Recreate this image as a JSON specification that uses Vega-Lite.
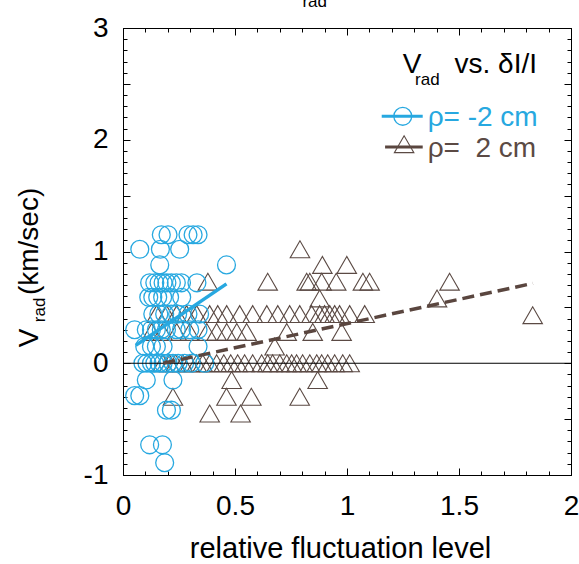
{
  "$schema": "https://vega.github.io/schema/vega-lite/v6.json",
  "width": 448,
  "height": 447,
  "autosize": {"type": "none"},
  "padding": {"left": 123, "top": 28, "right": 8, "bottom": 89},
  "background": "white",
  "datasets": {
    "one": [{}],
    "circles": [
      {"x": 0.171, "y": 1.15, "series": "ρ= -2 cm"}, {"x": 0.201, "y": 1.15, "series": "ρ= -2 cm"}, {"x": 0.290, "y": 1.15, "series": "ρ= -2 cm"}, {"x": 0.313, "y": 1.15, "series": "ρ= -2 cm"}, {"x": 0.335, "y": 1.15, "series": "ρ= -2 cm"},
      {"x": 0.075, "y": 1.02, "series": "ρ= -2 cm"}, {"x": 0.167, "y": 1.02, "series": "ρ= -2 cm"}, {"x": 0.253, "y": 1.02, "series": "ρ= -2 cm"},
      {"x": 0.164, "y": 0.88, "series": "ρ= -2 cm"}, {"x": 0.462, "y": 0.88, "series": "ρ= -2 cm"},
      {"x": 0.119, "y": 0.72, "series": "ρ= -2 cm"}, {"x": 0.142, "y": 0.72, "series": "ρ= -2 cm"}, {"x": 0.161, "y": 0.72, "series": "ρ= -2 cm"}, {"x": 0.179, "y": 0.72, "series": "ρ= -2 cm"}, {"x": 0.196, "y": 0.72, "series": "ρ= -2 cm"}, {"x": 0.216, "y": 0.72, "series": "ρ= -2 cm"}, {"x": 0.238, "y": 0.72, "series": "ρ= -2 cm"}, {"x": 0.261, "y": 0.72, "series": "ρ= -2 cm"}, {"x": 0.330, "y": 0.72, "series": "ρ= -2 cm"},
      {"x": 0.115, "y": 0.59, "series": "ρ= -2 cm"}, {"x": 0.133, "y": 0.59, "series": "ρ= -2 cm"}, {"x": 0.155, "y": 0.59, "series": "ρ= -2 cm"}, {"x": 0.177, "y": 0.59, "series": "ρ= -2 cm"}, {"x": 0.208, "y": 0.59, "series": "ρ= -2 cm"}, {"x": 0.262, "y": 0.59, "series": "ρ= -2 cm"},
      {"x": 0.133, "y": 0.44, "series": "ρ= -2 cm"}, {"x": 0.160, "y": 0.44, "series": "ρ= -2 cm"}, {"x": 0.186, "y": 0.44, "series": "ρ= -2 cm"}, {"x": 0.215, "y": 0.44, "series": "ρ= -2 cm"}, {"x": 0.244, "y": 0.44, "series": "ρ= -2 cm"}, {"x": 0.290, "y": 0.44, "series": "ρ= -2 cm"}, {"x": 0.342, "y": 0.44, "series": "ρ= -2 cm"},
      {"x": 0.052, "y": 0.30, "series": "ρ= -2 cm"}, {"x": 0.104, "y": 0.30, "series": "ρ= -2 cm"}, {"x": 0.127, "y": 0.30, "series": "ρ= -2 cm"}, {"x": 0.149, "y": 0.30, "series": "ρ= -2 cm"}, {"x": 0.171, "y": 0.30, "series": "ρ= -2 cm"}, {"x": 0.194, "y": 0.30, "series": "ρ= -2 cm"}, {"x": 0.238, "y": 0.30, "series": "ρ= -2 cm"}, {"x": 0.261, "y": 0.30, "series": "ρ= -2 cm"}, {"x": 0.298, "y": 0.30, "series": "ρ= -2 cm"}, {"x": 0.335, "y": 0.30, "series": "ρ= -2 cm"},
      {"x": 0.097, "y": 0.15, "series": "ρ= -2 cm"}, {"x": 0.127, "y": 0.15, "series": "ρ= -2 cm"}, {"x": 0.149, "y": 0.15, "series": "ρ= -2 cm"}, {"x": 0.179, "y": 0.15, "series": "ρ= -2 cm"}, {"x": 0.335, "y": 0.15, "series": "ρ= -2 cm"},
      {"x": 0.089, "y": 0.0, "series": "ρ= -2 cm"}, {"x": 0.107, "y": 0.0, "series": "ρ= -2 cm"}, {"x": 0.127, "y": 0.0, "series": "ρ= -2 cm"}, {"x": 0.142, "y": 0.0, "series": "ρ= -2 cm"}, {"x": 0.161, "y": 0.0, "series": "ρ= -2 cm"}, {"x": 0.179, "y": 0.0, "series": "ρ= -2 cm"}, {"x": 0.201, "y": 0.0, "series": "ρ= -2 cm"}, {"x": 0.223, "y": 0.0, "series": "ρ= -2 cm"}, {"x": 0.246, "y": 0.0, "series": "ρ= -2 cm"}, {"x": 0.275, "y": 0.0, "series": "ρ= -2 cm"}, {"x": 0.305, "y": 0.0, "series": "ρ= -2 cm"}, {"x": 0.365, "y": 0.0, "series": "ρ= -2 cm"},
      {"x": 0.104, "y": -0.15, "series": "ρ= -2 cm"}, {"x": 0.223, "y": -0.15, "series": "ρ= -2 cm"},
      {"x": 0.052, "y": -0.29, "series": "ρ= -2 cm"}, {"x": 0.075, "y": -0.29, "series": "ρ= -2 cm"},
      {"x": 0.194, "y": -0.42, "series": "ρ= -2 cm"}, {"x": 0.216, "y": -0.42, "series": "ρ= -2 cm"},
      {"x": 0.119, "y": -0.73, "series": "ρ= -2 cm"}, {"x": 0.176, "y": -0.73, "series": "ρ= -2 cm"},
      {"x": 0.186, "y": -0.89, "series": "ρ= -2 cm"}
    ],
    "triangles": [
      {"x": 0.790, "y": 1.02, "series": "ρ= 2 cm"},
      {"x": 0.890, "y": 0.88, "series": "ρ= 2 cm"}, {"x": 0.999, "y": 0.88, "series": "ρ= 2 cm"},
      {"x": 0.379, "y": 0.73, "series": "ρ= 2 cm"}, {"x": 0.646, "y": 0.73, "series": "ρ= 2 cm"}, {"x": 0.820, "y": 0.73, "series": "ρ= 2 cm"}, {"x": 0.834, "y": 0.73, "series": "ρ= 2 cm"}, {"x": 0.887, "y": 0.73, "series": "ρ= 2 cm"}, {"x": 0.952, "y": 0.73, "series": "ρ= 2 cm"}, {"x": 1.071, "y": 0.73, "series": "ρ= 2 cm"}, {"x": 1.101, "y": 0.73, "series": "ρ= 2 cm"}, {"x": 1.458, "y": 0.73, "series": "ρ= 2 cm"},
      {"x": 0.878, "y": 0.58, "series": "ρ= 2 cm"}, {"x": 1.402, "y": 0.58, "series": "ρ= 2 cm"},
      {"x": 0.150, "y": 0.44, "series": "ρ= 2 cm"}, {"x": 0.195, "y": 0.44, "series": "ρ= 2 cm"}, {"x": 0.240, "y": 0.44, "series": "ρ= 2 cm"}, {"x": 0.284, "y": 0.44, "series": "ρ= 2 cm"}, {"x": 0.329, "y": 0.44, "series": "ρ= 2 cm"}, {"x": 0.387, "y": 0.44, "series": "ρ= 2 cm"}, {"x": 0.423, "y": 0.44, "series": "ρ= 2 cm"}, {"x": 0.463, "y": 0.44, "series": "ρ= 2 cm"}, {"x": 0.521, "y": 0.44, "series": "ρ= 2 cm"}, {"x": 0.579, "y": 0.44, "series": "ρ= 2 cm"}, {"x": 0.642, "y": 0.44, "series": "ρ= 2 cm"}, {"x": 0.691, "y": 0.44, "series": "ρ= 2 cm"}, {"x": 0.744, "y": 0.44, "series": "ρ= 2 cm"}, {"x": 0.789, "y": 0.44, "series": "ρ= 2 cm"}, {"x": 0.842, "y": 0.44, "series": "ρ= 2 cm"}, {"x": 0.878, "y": 0.44, "series": "ρ= 2 cm"}, {"x": 0.900, "y": 0.44, "series": "ρ= 2 cm"}, {"x": 0.923, "y": 0.44, "series": "ρ= 2 cm"}, {"x": 0.945, "y": 0.44, "series": "ρ= 2 cm"}, {"x": 0.967, "y": 0.44, "series": "ρ= 2 cm"}, {"x": 1.012, "y": 0.44, "series": "ρ= 2 cm"}, {"x": 1.079, "y": 0.44, "series": "ρ= 2 cm"},
      {"x": 1.829, "y": 0.43, "series": "ρ= 2 cm"},
      {"x": 0.128, "y": 0.28, "series": "ρ= 2 cm"}, {"x": 0.177, "y": 0.28, "series": "ρ= 2 cm"}, {"x": 0.240, "y": 0.28, "series": "ρ= 2 cm"}, {"x": 0.298, "y": 0.28, "series": "ρ= 2 cm"}, {"x": 0.374, "y": 0.28, "series": "ρ= 2 cm"}, {"x": 0.418, "y": 0.28, "series": "ρ= 2 cm"}, {"x": 0.463, "y": 0.28, "series": "ρ= 2 cm"}, {"x": 0.508, "y": 0.28, "series": "ρ= 2 cm"}, {"x": 0.552, "y": 0.28, "series": "ρ= 2 cm"}, {"x": 0.731, "y": 0.28, "series": "ρ= 2 cm"}, {"x": 0.847, "y": 0.28, "series": "ρ= 2 cm"}, {"x": 0.976, "y": 0.28, "series": "ρ= 2 cm"},
      {"x": 0.677, "y": 0.15, "series": "ρ= 2 cm"},
      {"x": 0.177, "y": 0.0, "series": "ρ= 2 cm"}, {"x": 0.208, "y": 0.0, "series": "ρ= 2 cm"}, {"x": 0.235, "y": 0.0, "series": "ρ= 2 cm"}, {"x": 0.267, "y": 0.0, "series": "ρ= 2 cm"}, {"x": 0.298, "y": 0.0, "series": "ρ= 2 cm"}, {"x": 0.329, "y": 0.0, "series": "ρ= 2 cm"}, {"x": 0.356, "y": 0.0, "series": "ρ= 2 cm"}, {"x": 0.387, "y": 0.0, "series": "ρ= 2 cm"}, {"x": 0.418, "y": 0.0, "series": "ρ= 2 cm"}, {"x": 0.450, "y": 0.0, "series": "ρ= 2 cm"}, {"x": 0.481, "y": 0.0, "series": "ρ= 2 cm"}, {"x": 0.512, "y": 0.0, "series": "ρ= 2 cm"}, {"x": 0.543, "y": 0.0, "series": "ρ= 2 cm"}, {"x": 0.579, "y": 0.0, "series": "ρ= 2 cm"}, {"x": 0.619, "y": 0.0, "series": "ρ= 2 cm"}, {"x": 0.646, "y": 0.0, "series": "ρ= 2 cm"}, {"x": 0.668, "y": 0.0, "series": "ρ= 2 cm"}, {"x": 0.700, "y": 0.0, "series": "ρ= 2 cm"}, {"x": 0.731, "y": 0.0, "series": "ρ= 2 cm"}, {"x": 0.753, "y": 0.0, "series": "ρ= 2 cm"}, {"x": 0.775, "y": 0.0, "series": "ρ= 2 cm"}, {"x": 0.802, "y": 0.0, "series": "ρ= 2 cm"}, {"x": 0.834, "y": 0.0, "series": "ρ= 2 cm"}, {"x": 0.865, "y": 0.0, "series": "ρ= 2 cm"}, {"x": 0.887, "y": 0.0, "series": "ρ= 2 cm"}, {"x": 0.914, "y": 0.0, "series": "ρ= 2 cm"}, {"x": 0.945, "y": 0.0, "series": "ρ= 2 cm"}, {"x": 0.981, "y": 0.0, "series": "ρ= 2 cm"}, {"x": 1.012, "y": 0.0, "series": "ρ= 2 cm"},
      {"x": 0.485, "y": -0.15, "series": "ρ= 2 cm"}, {"x": 0.869, "y": -0.15, "series": "ρ= 2 cm"},
      {"x": 0.223, "y": -0.30, "series": "ρ= 2 cm"}, {"x": 0.462, "y": -0.30, "series": "ρ= 2 cm"}, {"x": 0.573, "y": -0.30, "series": "ρ= 2 cm"}, {"x": 0.789, "y": -0.30, "series": "ρ= 2 cm"},
      {"x": 0.387, "y": -0.45, "series": "ρ= 2 cm"}, {"x": 0.525, "y": -0.45, "series": "ρ= 2 cm"}
    ],
    "fitMinus": [{"x": 0.057, "y": 0.16}, {"x": 0.462, "y": 0.71}],
    "fitPlus": [{"x": 0.18, "y": 0.0}, {"x": 1.83, "y": 0.715}]
  },
  "layer": [
    {
      "data": {"name": "triangles"},
      "mark": {"type": "point", "shape": "triangle-up", "filled": false, "size": 380, "strokeWidth": 1.1, "opacity": 1, "color": "#5b4a44"},
      "encoding": {
        "x": {"field": "x", "type": "quantitative", "scale": {"domain": [0, 2], "nice": false, "zero": false},
          "axis": {"orient": "bottom", "values": [0, 0.5, 1, 1.5, 2], "tickSize": -7, "tickColor": "black", "labelFontSize": 28, "labelPadding": 24, "labelFlush": false, "labelOverlap": false, "labelExpr": "toString(datum.value)",
            "title": "relative fluctuation level", "titleFontSize": 29, "titleFontWeight": "normal", "titleBaseline": "alphabetic", "titleX": 217, "titleY": 82}},
        "y": {"field": "y", "type": "quantitative", "scale": {"domain": [-1, 3], "nice": false, "zero": false},
          "axis": {"orient": "left", "values": [-1, -0.5, 0, 0.5, 1, 1.5, 2, 2.5, 3], "tickSize": -7, "tickColor": "black", "labelFontSize": 28, "labelPadding": 22, "labelFlush": false, "labelOverlap": false, "labelExpr": "datum.value % 1 === 0 ? toString(datum.value) : ''", "title": null}}
      }
    },
    {
      "data": {"name": "circles"},
      "mark": {"type": "point", "shape": "circle", "filled": false, "size": 320, "strokeWidth": 1.3, "opacity": 1, "color": "#27a8e0"},
      "encoding": {
        "x": {"field": "x", "type": "quantitative", "scale": {"domain": [0, 2], "nice": false, "zero": false},
          "axis": {"orient": "bottom", "values": [0, 0.1, 0.2, 0.3, 0.4, 0.5, 0.6, 0.7, 0.8, 0.9, 1, 1.1, 1.2, 1.3, 1.4, 1.5, 1.6, 1.7, 1.8, 1.9, 2], "tickSize": -4, "tickColor": "black", "labels": false, "title": null}},
        "y": {"field": "y", "type": "quantitative", "scale": {"domain": [-1, 3], "nice": false, "zero": false},
          "axis": {"orient": "left", "values": [-1, -0.9, -0.8, -0.7, -0.6, -0.5, -0.4, -0.3, -0.2, -0.1, 0, 0.1, 0.2, 0.3, 0.4, 0.5, 0.6, 0.7, 0.8, 0.9, 1, 1.1, 1.2, 1.3, 1.4, 1.5, 1.6, 1.7, 1.8, 1.9, 2, 2.1, 2.2, 2.3, 2.4, 2.5, 2.6, 2.7, 2.8, 2.9, 3], "tickSize": -4, "tickColor": "black", "labels": false, "title": null}}
      }
    },
    {
      "data": {"name": "one"},
      "mark": {"type": "rule", "color": "black", "strokeWidth": 1},
      "encoding": {
        "y": {"datum": 0, "type": "quantitative", "scale": {"domain": [-1, 3], "nice": false, "zero": false}, "axis": null}
      }
    },
    {
      "data": {"name": "fitMinus"},
      "mark": {"type": "line", "color": "#27a8e0", "strokeWidth": 3.5},
      "encoding": {
        "x": {"field": "x", "type": "quantitative", "scale": {"domain": [0, 2], "nice": false, "zero": false},
          "axis": {"orient": "top", "values": [0, 0.5, 1, 1.5, 2], "tickSize": -7, "tickColor": "black", "labels": false, "title": null}},
        "y": {"field": "y", "type": "quantitative", "scale": {"domain": [-1, 3], "nice": false, "zero": false},
          "axis": {"orient": "right", "values": [-1, -0.5, 0, 0.5, 1, 1.5, 2, 2.5, 3], "tickSize": -7, "tickColor": "black", "labels": false, "title": null}}
      }
    },
    {
      "data": {"name": "fitPlus"},
      "mark": {"type": "line", "color": "#5a463f", "strokeWidth": 3.5, "strokeDash": [12, 6]},
      "encoding": {
        "x": {"field": "x", "type": "quantitative", "scale": {"domain": [0, 2], "nice": false, "zero": false},
          "axis": {"orient": "top", "values": [0, 0.1, 0.2, 0.3, 0.4, 0.5, 0.6, 0.7, 0.8, 0.9, 1, 1.1, 1.2, 1.3, 1.4, 1.5, 1.6, 1.7, 1.8, 1.9, 2], "tickSize": -4, "tickColor": "black", "labels": false, "title": null}},
        "y": {"field": "y", "type": "quantitative", "scale": {"domain": [-1, 3], "nice": false, "zero": false},
          "axis": {"orient": "right", "values": [-1, -0.9, -0.8, -0.7, -0.6, -0.5, -0.4, -0.3, -0.2, -0.1, 0, 0.1, 0.2, 0.3, 0.4, 0.5, 0.6, 0.7, 0.8, 0.9, 1, 1.1, 1.2, 1.3, 1.4, 1.5, 1.6, 1.7, 1.8, 1.9, 2, 2.1, 2.2, 2.3, 2.4, 2.5, 2.6, 2.7, 2.8, 2.9, 3], "tickSize": -4, "tickColor": "black", "labels": false, "title": null}}
      }
    },
    {
      "data": {"name": "one"},
      "mark": {"type": "rule", "color": "#27a8e0", "strokeWidth": 3},
      "encoding": {
        "x": {"datum": 1.155, "type": "quantitative", "scale": {"domain": [0, 2], "nice": false, "zero": false}, "axis": null},
        "x2": {"datum": 1.338},
        "y": {"datum": 2.21, "type": "quantitative", "scale": {"domain": [-1, 3], "nice": false, "zero": false}, "axis": null}
      }
    },
    {
      "data": {"name": "one"},
      "mark": {"type": "point", "shape": "circle", "filled": false, "size": 320, "strokeWidth": 1.3, "opacity": 1, "color": "#27a8e0"},
      "encoding": {
        "x": {"datum": 1.249, "type": "quantitative", "scale": {"domain": [0, 2], "nice": false, "zero": false}, "axis": null},
        "y": {"datum": 2.21, "type": "quantitative", "scale": {"domain": [-1, 3], "nice": false, "zero": false}, "axis": null}
      }
    },
    {
      "data": {"name": "one"},
      "mark": {"type": "text", "text": "ρ= -2 cm", "fontSize": 28, "align": "left", "baseline": "alphabetic", "color": "#27a8e0"},
      "encoding": {
        "x": {"datum": 1.36, "type": "quantitative", "scale": {"domain": [0, 2], "nice": false, "zero": false}, "axis": null},
        "y": {"datum": 2.125, "type": "quantitative", "scale": {"domain": [-1, 3], "nice": false, "zero": false}, "axis": null}
      }
    },
    {
      "data": {"name": "one"},
      "mark": {"type": "rule", "color": "#5a463f", "strokeWidth": 3},
      "encoding": {
        "x": {"datum": 1.17, "type": "quantitative", "scale": {"domain": [0, 2], "nice": false, "zero": false}, "axis": null},
        "x2": {"datum": 1.338},
        "y": {"datum": 1.935, "type": "quantitative", "scale": {"domain": [-1, 3], "nice": false, "zero": false}, "axis": null}
      }
    },
    {
      "data": {"name": "one"},
      "mark": {"type": "point", "shape": "triangle-up", "filled": false, "size": 380, "strokeWidth": 1.1, "opacity": 1, "color": "#5b4a44"},
      "encoding": {
        "x": {"datum": 1.255, "type": "quantitative", "scale": {"domain": [0, 2], "nice": false, "zero": false}, "axis": null},
        "y": {"datum": 1.96, "type": "quantitative", "scale": {"domain": [-1, 3], "nice": false, "zero": false}, "axis": null}
      }
    },
    {
      "data": {"name": "one"},
      "mark": {"type": "text", "text": "ρ=\u00a0\u00a02 cm", "fontSize": 28, "align": "left", "baseline": "alphabetic", "color": "#5b4a44"},
      "encoding": {
        "x": {"datum": 1.36, "type": "quantitative", "scale": {"domain": [0, 2], "nice": false, "zero": false}, "axis": null},
        "y": {"datum": 1.85, "type": "quantitative", "scale": {"domain": [-1, 3], "nice": false, "zero": false}, "axis": null}
      }
    },
    {
      "data": {"name": "one"},
      "mark": {"type": "text", "text": "V", "fontSize": 28, "align": "left", "baseline": "alphabetic", "color": "black"},
      "encoding": {
        "x": {"datum": 1.249, "type": "quantitative", "scale": {"domain": [0, 2], "nice": false, "zero": false}, "axis": null},
        "y": {"datum": 2.596, "type": "quantitative", "scale": {"domain": [-1, 3], "nice": false, "zero": false}, "axis": null}
      }
    },
    {
      "data": {"name": "one"},
      "mark": {"type": "text", "text": "rad", "fontSize": 17, "align": "left", "baseline": "alphabetic", "color": "black"},
      "encoding": {
        "x": {"datum": 1.304, "type": "quantitative", "scale": {"domain": [0, 2], "nice": false, "zero": false}, "axis": null},
        "y": {"datum": 2.489, "type": "quantitative", "scale": {"domain": [-1, 3], "nice": false, "zero": false}, "axis": null}
      }
    },
    {
      "data": {"name": "one"},
      "mark": {"type": "text", "text": "vs. δI/I", "fontSize": 28, "align": "left", "baseline": "alphabetic", "color": "black"},
      "encoding": {
        "x": {"datum": 1.48, "type": "quantitative", "scale": {"domain": [0, 2], "nice": false, "zero": false}, "axis": null},
        "y": {"datum": 2.596, "type": "quantitative", "scale": {"domain": [-1, 3], "nice": false, "zero": false}, "axis": null}
      }
    },
    {
      "data": {"name": "one"},
      "mark": {"type": "text", "text": "V", "fontSize": 28, "angle": 270, "align": "left", "baseline": "alphabetic", "color": "black"},
      "encoding": {
        "x": {"datum": -0.38, "type": "quantitative", "scale": {"domain": [0, 2], "nice": false, "zero": false}, "axis": null},
        "y": {"datum": 0.143, "type": "quantitative", "scale": {"domain": [-1, 3], "nice": false, "zero": false}, "axis": null}
      }
    },
    {
      "data": {"name": "one"},
      "mark": {"type": "text", "text": "rad", "fontSize": 17, "angle": 270, "align": "left", "baseline": "alphabetic", "color": "black"},
      "encoding": {
        "x": {"datum": -0.349, "type": "quantitative", "scale": {"domain": [0, 2], "nice": false, "zero": false}, "axis": null},
        "y": {"datum": 0.367, "type": "quantitative", "scale": {"domain": [-1, 3], "nice": false, "zero": false}, "axis": null}
      }
    },
    {
      "data": {"name": "one"},
      "mark": {"type": "text", "text": "(km/sec)", "fontSize": 28, "angle": 270, "align": "left", "baseline": "alphabetic", "color": "black"},
      "encoding": {
        "x": {"datum": -0.38, "type": "quantitative", "scale": {"domain": [0, 2], "nice": false, "zero": false}, "axis": null},
        "y": {"datum": 0.61, "type": "quantitative", "scale": {"domain": [-1, 3], "nice": false, "zero": false}, "axis": null}
      }
    },
    {
      "data": {"name": "one"},
      "mark": {"type": "text", "text": "rad", "fontSize": 17, "align": "center", "baseline": "alphabetic", "color": "black"},
      "encoding": {
        "x": {"datum": 0.856, "type": "quantitative", "scale": {"domain": [0, 2], "nice": false, "zero": false}, "axis": null},
        "y": {"datum": 3.187, "type": "quantitative", "scale": {"domain": [-1, 3], "nice": false, "zero": false}, "axis": null}
      }
    }
  ],
  "resolve": {"axis": {"x": "independent", "y": "independent"}},
  "config": {
    "view": {"stroke": "black", "strokeWidth": 1},
    "font": "Liberation Sans",
    "text": {"font": "Liberation Sans"},
    "axis": {"labelFont": "Liberation Sans", "titleFont": "Liberation Sans", "labelColor": "black", "titleColor": "black", "tickColor": "black", "tickWidth": 1, "domain": false, "grid": false}
  }
}
